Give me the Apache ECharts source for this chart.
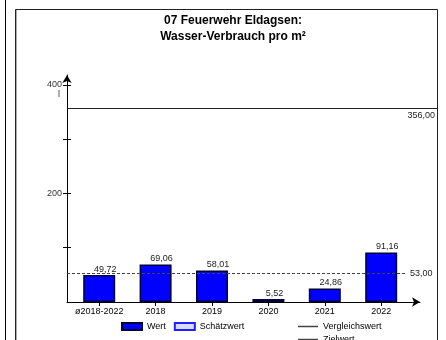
<!DOCTYPE html>
<html><head><meta charset="utf-8">
<script src="https://cdn.jsdelivr.net/npm/echarts@6/dist/echarts.min.js"></script>
<style>html,body{margin:0;padding:0;background:#fff}#c{width:446px;height:340px}</style>
</head><body><div id="c"></div>
<script>
const categories = ['ø2018-2022', '2018', '2019', '2020', '2021', '2022'];
const values = [49.72, 69.06, 58.01, 5.52, 24.86, 91.16];
const vergleichswert = 356;
const zielwert = 53;
const yTickValues = [100, 200, 300, 400];
const yLabelValues = [200, 400];
const yMax = 418;

const FONT = 'Liberation Sans';
const fmt = v => v.toFixed(2).replace('.', ',');
const chart = echarts.init(document.getElementById('c'), null, {renderer: 'canvas'});

const legendText = {fontSize: 9, color: '#000', fontFamily: FONT};
const gridTop = 75, gridBottom = 38;
chart.setOption({
  animation: false,
  textStyle: {fontFamily: FONT},
  title: [
    {text: '07 Feuerwehr Eldagsen:\nWasser-Verbrauch pro m²', left: 228, top: 8, textAlign: 'center',
     textStyle: {fontSize: 12, fontWeight: 'bold', lineHeight: 16, color: '#000', fontFamily: FONT}},
    {text: 'l', left: 53, top: 85, textStyle: {fontSize: 9, fontWeight: 'normal', color: '#333', fontFamily: FONT}}
  ],
  graphic: [
    {type: 'line', shape: {x1: 5.5, y1: 0, x2: 5.5, y2: 340}, style: {stroke: '#000', lineWidth: 1}},
    {type: 'polyline', shape: {points: [[15.5, 340], [15.5, 9.5], [437.5, 9.5], [437.5, 340]]}, style: {stroke: '#222', fill: null, lineWidth: 1}},
    {type: 'line', shape: {x1: 16.5, y1: 10, x2: 16.5, y2: 340}, style: {stroke: '#aaa', lineWidth: 1}}
  ],
  legend: [
    {data: [{name: 'Wert', icon: 'rect'}, {name: 'Schätzwert', icon: 'rect'}], left: 116, top: 317,
     itemWidth: 20, itemHeight: 7, itemGap: 8, textStyle: legendText},
    {data: [{name: 'Vergleichswert', icon: 'rect'}], left: 293, top: 317, itemWidth: 20, itemHeight: 1.5,
     textStyle: legendText},
    {data: [{name: 'Zielwert', icon: 'rect'}], left: 293, top: 330, itemWidth: 20, itemHeight: 1.5,
     textStyle: legendText}
  ],
  grid: [
    {left: 71, right: 36.6, top: gridTop, bottom: gridBottom},
    {left: 67, right: 26, top: gridTop, bottom: gridBottom}
  ],
  xAxis: [
    {type: 'category', gridIndex: 0, data: categories,
     axisLine: {show: false},
     axisTick: {show: true, alignWithLabel: true, length: 4, lineStyle: {color: '#000'}},
     axisLabel: {interval: 0, fontSize: 9, color: '#000', margin: 5, fontFamily: FONT}},
    {type: 'value', gridIndex: 1, min: 0, max: 1,
     axisLine: {show: true, symbol: ['none', 'arrow'], symbolSize: [7, 8], lineStyle: {color: '#000', width: 1}},
     axisTick: {show: false}, axisLabel: {show: false}, splitLine: {show: false}}
  ],
  yAxis: [
    {type: 'value', gridIndex: 0, min: 0, max: yMax, show: false, splitLine: {show: false}},
    {type: 'value', gridIndex: 1, min: 0, max: yMax,
     axisLine: {show: true, symbol: ['none', 'arrow'], symbolSize: [7, 8], lineStyle: {color: '#000', width: 1}},
     axisTick: {show: true, length: 4, customValues: yTickValues, lineStyle: {color: '#000'}},
     axisLabel: {show: true, customValues: yLabelValues, fontSize: 9, color: '#333', margin: 5, fontFamily: FONT},
     splitLine: {show: false}},
    {type: 'value', gridIndex: 1, min: 0, max: yMax, position: 'left',
     axisLine: {show: false},
     axisTick: {show: true, inside: true, length: 4, customValues: yTickValues, lineStyle: {color: '#000'}},
     axisLabel: {show: false}, splitLine: {show: false}}
  ],
  series: [
    {name: 'Wert', type: 'bar', xAxisIndex: 0, yAxisIndex: 0, data: values, barWidth: 32, barGap: '-100%',
     itemStyle: {color: '#0000ff', borderColor: '#00003a', borderWidth: 1.5},
     label: {show: true, position: 'top', distance: 1, offset: [6, 0], fontSize: 9, color: '#222',
             fontFamily: FONT, formatter: p => fmt(p.value)}},
    {name: 'Schätzwert', type: 'bar', xAxisIndex: 0, yAxisIndex: 0, data: categories.map(() => null), barWidth: 32, barGap: '-100%',
     itemStyle: {color: '#d8dcff', borderColor: '#2020ff', borderWidth: 1.5}},
    {name: 'Vergleichswert', type: 'line', xAxisIndex: 0, yAxisIndex: 0, data: categories.map(() => null),
     symbol: 'none', lineStyle: {color: '#444', width: 1.5}, itemStyle: {color: '#444'},
     markLine: {silent: true, symbol: 'none',
       lineStyle: {color: '#222', width: 1, type: 'solid'},
       label: {show: true, position: 'insideEndBottom', distance: 2, fontSize: 9, color: '#222', fontFamily: FONT,
               formatter: () => fmt(vergleichswert)},
       data: [[{x: 67, yAxis: vergleichswert}, {x: 437, yAxis: vergleichswert}]]}},
    {name: 'Zielwert', type: 'line', xAxisIndex: 0, yAxisIndex: 0, data: categories.map(() => null),
     symbol: 'none', lineStyle: {color: '#444', width: 1.5, type: 'dashed'}, itemStyle: {color: '#444'},
     markLine: {silent: true, symbol: 'none',
       lineStyle: {color: '#444', width: 1, type: [3, 2]},
       label: {show: true, position: 'end', distance: 5, fontSize: 9, color: '#222', fontFamily: FONT,
               formatter: () => fmt(zielwert)},
       data: [[{x: 67, yAxis: zielwert}, {x: 405, yAxis: zielwert}]]}}
  ]
});
</script></body></html>
